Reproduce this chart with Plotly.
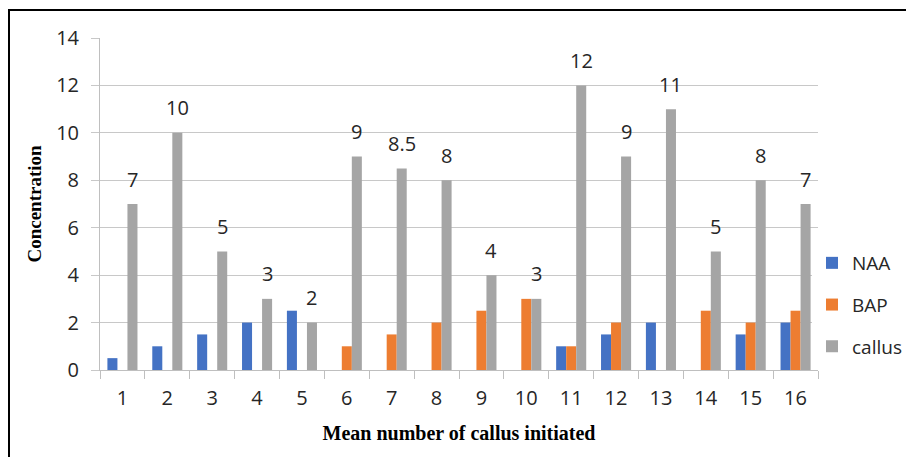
import plotly.graph_objects as go

categories = [str(i) for i in range(1, 17)]
naa = [0.5, 1, 1.5, 2, 2.5, None, None, None, None, None, 1, 1.5, 2, None, 1.5, 2]
bap = [None, None, None, None, None, 1, 1.5, 2, 2.5, 3, 1, 2, None, 2.5, 2, 2.5]
callus = [7, 10, 5, 3, 2, 9, 8.5, 8, 4, 3, 12, 9, 11, 5, 8, 7]
callus_labels = ["7", "10", "5", "3", "2", "9", "8.5", "8", "4", "3", "12", "9", "11", "5", "8", "7"]

series = [("NAA", naa, "#4472C4"), ("BAP", bap, "#ED7D31"), ("callus", callus, "#A5A5A5")]

fig = go.Figure()
for name, vals, col in series:
    fig.add_trace(go.Bar(x=categories, y=vals, name=name, marker_color=col,
                         marker_line_width=0, legendgroup=name))

for i, (v, t) in enumerate(zip(callus, callus_labels)):
    fig.add_annotation(x=i, y=v, text=t, showarrow=False, xref="x", yref="y",
                       xshift=10, yshift=25, yanchor="middle",
                       font=dict(family="Open Sans", size=20, color="#262626"))

L, R, T, B = 100, 88, 38, 87
W, H = 906, 457
pw, ph = W - L - R, H - T - B
fig.add_shape(type="rect", xref="paper", yref="paper",
              x0=(9 - L) / pw, x1=1.3, y0=-0.5, y1=1 + (T - 10) / ph,
              line=dict(color="black", width=2), fillcolor="rgba(0,0,0,0)", layer="above")

fig.update_layout(
    width=W, height=H,
    margin=dict(l=L, r=R, t=T, b=B, autoexpand=False),
    paper_bgcolor="white", plot_bgcolor="white",
    barmode="group", bargap=0.33, bargroupgap=0,
    font=dict(family="Open Sans", size=20, color="#262626"),
    showlegend=True,
    legend=dict(x=(812 - L) / pw, y=(370 - 305) / ph, xanchor="left", yanchor="middle",
                traceorder="grouped", tracegroupgap=14,
                font=dict(family="Open Sans", size=19, color="#262626"),
                itemwidth=30),
    xaxis=dict(
        type="category", range=[-0.5, 15.5], showgrid=False, showline=True,
        linecolor="#BFBFBF", linewidth=1,
        ticks="outside", tickson="boundaries", ticklen=8, tickcolor="#BFBFBF",
        ticklabelstandoff=10,
        title=dict(text="<b>Mean number of callus initiated</b>", standoff=15,
                   font=dict(family="Liberation Serif", size=20, color="black")),
    ),
    yaxis=dict(
        range=[0, 14], dtick=2, showgrid=True, gridcolor="#C8C8C8", gridwidth=1,
        zeroline=False, showline=True, linecolor="#BFBFBF", linewidth=1,
        ticks="outside", ticklen=8, tickcolor="#C8C8C8", ticklabelstandoff=8,
        title=dict(text="<b>Concentration</b>", standoff=9,
                   font=dict(family="Liberation Serif", size=19, color="black")),
    ),
)

fig.write_html("out.html", config={"displayModeBar": False},
               post_script="document.body.style.margin='0';")
